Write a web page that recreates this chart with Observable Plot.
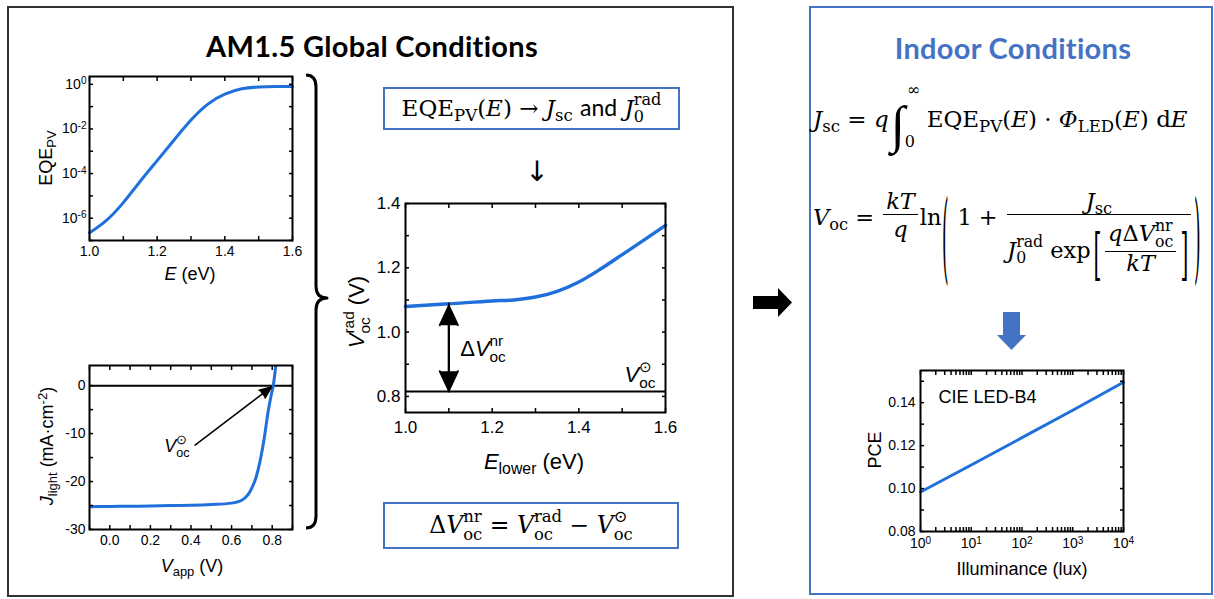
<!DOCTYPE html>
<html>
<head>
<meta charset="utf-8">
<script src="https://cdn.jsdelivr.net/npm/d3@7"></script>
<script src="https://cdn.jsdelivr.net/npm/@observablehq/plot@0.6"></script>
<style>
  html, body { margin: 0; padding: 0; background: #fff; }
  #page { position: relative; width: 1214px; height: 599px; overflow: hidden; background: #fff;
          font-family: "Liberation Sans", Arial, Helvetica, sans-serif; color: #000; }
  .panel { position: absolute; box-sizing: border-box; }
  .heading { position: absolute; font-family: Lato, "Open Sans", sans-serif; font-weight: 700; font-size: 29px;
             letter-spacing: 0.3px; white-space: nowrap; transform: translate(-50%, -50%); }
  .lbl { position: absolute; white-space: nowrap; line-height: 1; transform: translate(-50%, -50%); }
  .lbl.rot { transform: translate(-50%, -50%) rotate(-90deg); }
  .math { font-family: "DejaVu Serif", "Liberation Serif", serif; white-space: nowrap; line-height: 1; }
  i { font-style: italic; }
  .sb { font-size: 0.72em; vertical-align: -0.3em; line-height: 0; }
  .sp { font-size: 0.72em; vertical-align: 0.5em; line-height: 0; }
  .ss { display: inline-flex; flex-direction: column; font-size: 0.7em; line-height: 1.05;
        vertical-align: 0.66em; text-align: left; }
  .sans { font-family: Lato, "Open Sans", sans-serif; }
  .arrowglyph { font-family: "DejaVu Sans", sans-serif; }
  .box { position: absolute; box-sizing: border-box; border: 2px solid #4472C4;
         display: flex; align-items: center; justify-content: center; }
  .frac { display: inline-flex; flex-direction: column; align-items: stretch; text-align: center;
          vertical-align: 0.72em; margin: 0 0.1em; }
  .frac > .num { border-bottom: 1.5px solid #000; padding: 0 0.12em 0.08em; }
  .frac > .den { padding-top: 0.1em; }
  .frac.tight > .num { padding-bottom: 0.02em; }
  .frac.tight > .den { padding-top: 0.02em; }
  .int { display: inline-block; position: relative; width: 34px; height: 0; margin: 0 2px 0 2px; }
  .int .g { position: absolute; left: 0; bottom: -24px; font-size: 52px; line-height: 1;
            font-family: "Liberation Serif", serif; }
  .int .up { position: absolute; left: 16px; top: -45px; font-size: 16px; }
  .int .lo { position: absolute; left: 14px; top: 7px; font-size: 16px; }
  .bp { display: inline-block; position: relative; top: 0.9em; transform: scale(0.75, 4.4); }
  .bk { display: inline-block; position: relative; top: 0.2em; transform: scale(0.9, 2.5); margin: 0 0.08em; }
</style>
</head>
<body>
<div id="page">
  <div class="panel" style="left:7px;top:6px;width:727px;height:591px;border:2px solid #333;"></div>
  <div class="panel" style="left:809px;top:6px;width:404px;height:589px;border:2px solid #4472C4;"></div>

  <div class="heading" style="left:372px;top:45px;">AM1.5 Global Conditions</div>
  <div class="heading" style="left:1013px;top:47px;color:#4472C4;">Indoor Conditions</div>

  <!-- brace grouping the two AM1.5 measurements, and the flow arrows -->
  <svg width="1214" height="599" style="position:absolute;left:0;top:0;">
    <path d="M306,75 Q316,75 316,87 L316,286 Q316,298 327,298 Q316,298 316,310 L316,516 Q316,528 306,528"
          fill="none" stroke="#000" stroke-width="3" stroke-linejoin="round"/>
    <polygon points="753,296 778,296 778,288 792,302.5 778,317 778,309 753,309" fill="#000"/>
    <polygon points="1003,312 1020,312 1020,335 1026,335 1011.5,350 997,335 1003,335" fill="#4472C4"/>
  </svg>

  <div class="box" style="left:383px;top:87px;width:297px;height:43px;">
    <div class="math" style="font-size:23px;">EQE<span class="sb">PV</span>(<i>E</i>) → <i>J</i><span class="sb">sc</span> <span class="sans">and</span> <i>J</i><span class="ss"><span>rad</span><span>0</span></span></div>
  </div>
  <div class="lbl arrowglyph" style="left:537px;top:172px;font-size:28px;">↓</div>

  <div class="box" style="left:383px;top:502px;width:296px;height:47px;">
    <div class="math" style="font-size:23.5px;">Δ<i>V</i><span class="ss"><span>nr</span><span>oc</span></span> = <i>V</i><span class="ss"><span>rad</span><span>oc</span></span> − <i>V</i><span class="ss"><span>⊙</span><span>oc</span></span></div>
  </div>

  <div class="math" style="position:absolute;left:813px;top:108px;font-size:23px;">
    <i>J</i><span class="sb">sc</span> = <i>q</i><span class="int"><span class="g">∫</span><span class="up">∞</span><span class="lo">0</span></span>EQE<span class="sb">PV</span>(<i>E</i>) · <i>Φ</i><span class="sb">LED</span>(<i>E</i>) d<i>E</i>
  </div>

  <div class="math" style="position:absolute;left:813px;top:190px;font-size:22.5px;">
    <i>V</i><span class="sb">oc</span> = <span class="frac"><span class="num"><i>kT</i></span><span class="den"><i>q</i></span></span>ln<span class="bp">(</span> 1 + <span class="frac"><span class="num"><i>J</i><span class="sb">sc</span></span><span class="den"><i>J</i><span class="ss"><span>rad</span><span>0</span></span> exp<span class="bk">[</span><span class="frac tight"><span class="num"><i>q</i>Δ<i>V</i><span class="ss"><span>nr</span><span>oc</span></span></span><span class="den"><i>kT</i></span></span><span class="bk">]</span></span></span><span class="bp">)</span>
  </div>

  <!-- axis titles and in-plot annotations -->
  <div class="lbl rot" style="left:46px;top:158px;font-size:18px;">EQE<span class="sb">PV</span></div>
  <div class="lbl" style="left:190px;top:274px;font-size:18px;"><i>E</i> (eV)</div>
  <div class="lbl rot" style="left:47px;top:446px;font-size:18px;"><i>J</i><span class="sb">light</span> (mA·cm<span class="sp">-2</span>)</div>
  <div class="lbl" style="left:192px;top:566px;font-size:18px;"><i>V</i><span class="sb">app</span> (V)</div>
  <div class="lbl" style="left:177px;top:447px;font-size:18px;"><i>V</i><span class="ss"><span>⊙</span><span>oc</span></span></div>

  <div class="lbl rot" style="left:357px;top:312px;font-size:22px;"><i>V</i><span class="ss"><span>rad</span><span>oc</span></span> (V)</div>
  <div class="lbl" style="left:534px;top:462px;font-size:22px;"><i>E</i><span class="sb">lower</span> (eV)</div>
  <div class="lbl" style="left:483px;top:349px;font-size:22px;">Δ<i>V</i><span class="ss"><span>nr</span><span>oc</span></span></div>
  <div class="lbl" style="left:640px;top:375px;font-size:22px;"><i>V</i><span class="ss"><span>⊙</span><span>oc</span></span></div>

  <div class="lbl rot" style="left:875px;top:450px;font-size:18px;">PCE</div>
  <div class="lbl" style="left:1022px;top:569px;font-size:18px;">Illuminance (lux)</div>
</div>

<script>
// ---- data ----
// external quantum efficiency spectrum
const eqeEnergy = [1.00, 1.05, 1.10, 1.15, 1.20, 1.25, 1.30, 1.35, 1.40, 1.45, 1.50, 1.55, 1.60];
const eqeValue  = [2.2e-7, 8e-7, 5e-6, 4.5e-5, 3.8e-4, 3.2e-3, 0.025, 0.13, 0.36, 0.63, 0.76, 0.80, 0.79];

// current–voltage curve under AM1.5G
const jvVoltage = [-0.1, 0.0, 0.1, 0.2, 0.3, 0.4, 0.5, 0.6, 0.65, 0.68, 0.70, 0.72, 0.74, 0.76, 0.78, 0.795, 0.805, 0.82];
const jvCurrent = [-25.25, -25.2, -25.15, -25.1, -25.0, -24.95, -24.8, -24.5, -23.9, -22.8, -21.3, -19.2, -15.8, -11.2, -5.4, -2.0, 0, 5];
const jvVoc = 0.805;
const jvVocLabel = {v: 0.42, j: -12.4};

// radiative open-circuit voltage vs. lower integration bound
const eLower = [1.00, 1.10, 1.20, 1.25, 1.30, 1.35, 1.40, 1.45, 1.50, 1.55, 1.60];
const vocRad = [1.080, 1.088, 1.097, 1.100, 1.109, 1.127, 1.156, 1.196, 1.241, 1.286, 1.332];
const vocSun = 0.815;
const deltaAt = 1.10;

// indoor efficiency vs. illuminance
const illuminance = [1, 10, 100, 1000, 10000];
const pce = [0.0984, 0.111, 0.1237, 0.1365, 0.1495];
const spectrumName = "CIE LED-B4";

// ---- tick values ----
const eqeXLabels = [1.0, 1.2, 1.4, 1.6];
const eqeXTicks = [1.0, 1.1, 1.2, 1.3, 1.4, 1.5, 1.6];
const eqeYLabels = [1e-6, 1e-4, 1e-2, 1];
const eqeYTicks = [1e-7, 1e-6, 1e-5, 1e-4, 1e-3, 1e-2, 1e-1, 1];

const jvXLabels = [0.0, 0.2, 0.4, 0.6, 0.8];
const jvXTicks = [-0.1, 0.0, 0.1, 0.2, 0.3, 0.4, 0.5, 0.6, 0.7, 0.8, 0.9];
const jvYLabels = [0, -10, -20, -30];
const jvYTicks = [-30, -25, -20, -15, -10, -5, 0];

const vXLabels = [1.0, 1.2, 1.4, 1.6];
const vXTicks = [1.0, 1.1, 1.2, 1.3, 1.4, 1.5, 1.6];
const vYLabels = [0.8, 1.0, 1.2, 1.4];
const vYTicks = [0.8, 0.9, 1.0, 1.1, 1.2, 1.3, 1.4];

const pXLabels = [1, 10, 100, 1000, 10000];
const pXTicks = [1, 2, 3, 4, 5, 6, 7, 8, 9, 10, 20, 30, 40, 50, 60, 70, 80, 90, 100, 200, 300, 400, 500, 600, 700, 800, 900,
                 1000, 2000, 3000, 4000, 5000, 6000, 7000, 8000, 9000, 10000];
const pYLabels = [0.08, 0.10, 0.12, 0.14];
const pYTicks = [0.08, 0.09, 0.10, 0.11, 0.12, 0.13, 0.14, 0.15];

// ---- helpers ----
const page = document.getElementById("page");
const curveBlue = "#2070dc";
const sansStack = '"Liberation Sans", Arial, Helvetica, sans-serif';
const f1 = d3.format(".1f");
const f2 = d3.format(".2f");
const pow10 = (d) => "10^" + Math.round(Math.log10(d));

function plotStyle(size) {
  return {fontSize: size + "px", fontFamily: sansStack, color: "black", background: "none", overflow: "visible"};
}

// boxed axes: labels outside, short ticks pointing inward on all four sides
function boxAxes({xLabels, xFormat, xTicks, yLabels, yFormat, yTicks, padX = 6, padY = 4, tick = 4}) {
  const blank = () => "";
  return [
    Plot.axisX({anchor: "bottom", ticks: xLabels, tickFormat: xFormat, tickSize: 0, tickPadding: padX, label: null}),
    Plot.axisY({anchor: "left", ticks: yLabels, tickFormat: yFormat, tickSize: 0, tickPadding: padY, label: null}),
    Plot.axisX({anchor: "bottom", ticks: xTicks, tickFormat: blank, tickSize: -tick, strokeWidth: 1.5, label: null}),
    Plot.axisX({anchor: "top", ticks: xTicks, tickFormat: blank, tickSize: -tick, strokeWidth: 1.5, label: null}),
    Plot.axisY({anchor: "left", ticks: yTicks, tickFormat: blank, tickSize: -tick, strokeWidth: 1.5, label: null}),
    Plot.axisY({anchor: "right", ticks: yTicks, tickFormat: blank, tickSize: -tick, strokeWidth: 1.5, label: null}),
    Plot.frame({stroke: "black", strokeWidth: 2})
  ];
}

// turn "10^n" tick labels into a base with a raised exponent
function raiseExponents(svg) {
  svg.querySelectorAll("text").forEach((t) => {
    const m = /^10\^(.+)$/.exec(t.textContent);
    if (!m) return;
    t.textContent = "10";
    const s = document.createElementNS("http://www.w3.org/2000/svg", "tspan");
    s.setAttribute("dy", "-0.45em");
    s.setAttribute("font-size", "0.72em");
    s.textContent = m[1];
    t.appendChild(s);
  });
}

function mount(svg, left, top) {
  svg.style.position = "absolute";
  svg.style.left = left + "px";
  svg.style.top = top + "px";
  svg.style.maxWidth = "none";
  raiseExponents(svg);
  page.appendChild(svg);
}

// ---- EQE spectrum ----
const eqeData = eqeEnergy.map((e, i) => ({e, v: eqeValue[i]}));
mount(Plot.plot({
  width: 273, height: 204, marginLeft: 60, marginRight: 10, marginTop: 10, marginBottom: 30,
  style: plotStyle(14),
  x: {domain: [1, 1.6]},
  y: {type: "log", domain: [1e-7, 2.24]},
  marks: [
    Plot.line(eqeData, {x: "e", y: "v", stroke: curveBlue, strokeWidth: 3, curve: "natural"}),
    ...boxAxes({xLabels: eqeXLabels, xFormat: f1, xTicks: eqeXTicks, yLabels: eqeYLabels, yFormat: pow10, yTicks: eqeYTicks, padY: 3})
  ]
}), 29, 66);

// ---- J–V curve ----
const jvData = jvVoltage.map((v, i) => ({v, j: jvCurrent[i]}));
mount(Plot.plot({
  width: 273, height: 204, marginLeft: 60, marginRight: 10, marginTop: 10, marginBottom: 30,
  style: plotStyle(14),
  x: {domain: [-0.1, 0.9]},
  y: {domain: [-30, 4.2]},
  marks: [
    Plot.ruleY([0], {stroke: "black", strokeWidth: 2}),
    Plot.line(jvData, {x: "v", y: "j", stroke: curveBlue, strokeWidth: 3, curve: "monotone-x", clip: true}),
    Plot.arrow([{x1: jvVocLabel.v, y1: jvVocLabel.j, x2: jvVoc, y2: 0}],
      {x1: "x1", y1: "y1", x2: "x2", y2: "y2", stroke: "black", fill: "black", strokeWidth: 1.5,
       headLength: 13, headAngle: 45, insetEnd: 2}),
    ...boxAxes({xLabels: jvXLabels, xFormat: f1, xTicks: jvXTicks, yLabels: jvYLabels, yFormat: (d) => String(d), yTicks: jvYTicks})
  ]
}), 29, 355);

// ---- radiative Voc ----
const vData = eLower.map((e, i) => ({e, v: vocRad[i]}));
const gap = {e: deltaAt, lo: vocSun, hi: vocRad[eLower.indexOf(deltaAt)]};
mount(Plot.plot({
  width: 330, height: 249, marginLeft: 60, marginRight: 10, marginTop: 10, marginBottom: 30,
  style: plotStyle(17),
  x: {domain: [1, 1.6]},
  y: {domain: [0.75, 1.4]},
  marks: [
    Plot.ruleY([vocSun], {stroke: "black", strokeWidth: 2}),
    Plot.line(vData, {x: "e", y: "v", stroke: curveBlue, strokeWidth: 3.5, curve: "monotone-x"}),
    Plot.arrow([gap], {x1: "e", x2: "e", y1: "lo", y2: "hi", stroke: "black", fill: "black", strokeWidth: 2,
      headLength: 16, headAngle: 50, insetEnd: 2}),
    Plot.arrow([gap], {x1: "e", x2: "e", y1: "hi", y2: "lo", stroke: "black", fill: "black", strokeWidth: 2,
      headLength: 16, headAngle: 50, insetEnd: 1}),
    ...boxAxes({xLabels: vXLabels, xFormat: f1, xTicks: vXTicks, yLabels: vYLabels, yFormat: f1, yTicks: vYTicks, padX: 8, padY: 5})
  ]
}), 345, 193);

// ---- indoor PCE ----
const pData = illuminance.map((l, i) => ({l, p: pce[i]}));
mount(Plot.plot({
  width: 273, height: 201, marginLeft: 60, marginRight: 10, marginTop: 10, marginBottom: 30,
  style: plotStyle(14),
  x: {type: "log", domain: [1, 1e4]},
  y: {domain: [0.08, 0.155]},
  marks: [
    Plot.line(pData, {x: "l", y: "p", stroke: curveBlue, strokeWidth: 3}),
    Plot.text([spectrumName], {frameAnchor: "top-left", dx: 18, dy: 20, textAnchor: "start", fontSize: 18}),
    ...boxAxes({xLabels: pXLabels, xFormat: pow10, xTicks: pXTicks, yLabels: pYLabels, yFormat: f2, yTicks: pYTicks, padX: 7, padY: 5})
  ]
}), 860, 360);
</script>
</body>
</html>
